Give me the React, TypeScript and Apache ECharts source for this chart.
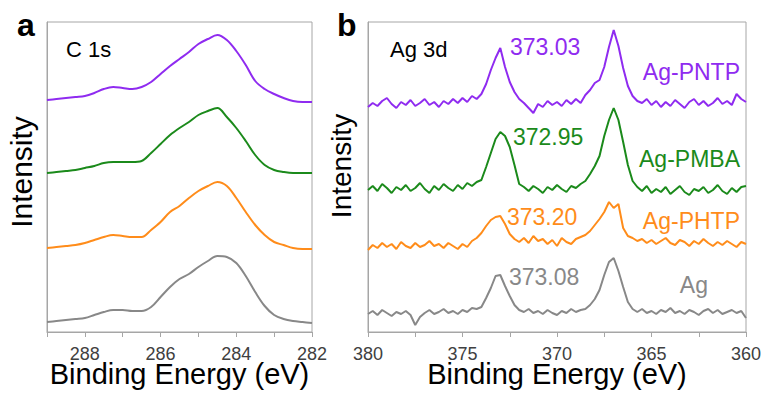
import React, { useEffect, useRef } from "react";
import * as echarts from "echarts";

// ---------- Panel a: C 1s ----------
const c1sEnergy = [289, 288.75, 288.5, 288.25, 288, 287.75, 287.5, 287.25, 287, 286.75, 286.5, 286.25, 286, 285.75, 285.5, 285.25, 285, 284.75, 284.5, 284.25, 284, 283.75, 283.5, 283.25, 283, 282.75, 282.5, 282.25, 282];
const c1sPNTP = [232, 233, 234, 235, 236, 239, 243, 245, 244, 243, 245, 250, 258, 266, 273, 280, 288, 293, 297, 292, 281, 267, 251, 243, 238, 234, 231, 230, 230];
const c1sPMBA = [159, 160, 161, 162, 164, 166, 169, 170, 170, 170, 171, 179, 188, 197, 204, 210, 217, 221, 224, 215, 204, 191, 177, 167, 162, 160, 159, 159, 159];
const c1sPHTP = [84, 85, 86, 87, 89, 92, 95, 97, 96, 95, 95, 102, 110, 120, 126, 134, 141, 146, 150, 146, 134, 120, 107, 97, 90, 87, 84, 83, 83];
const c1sAg = [10, 11, 12, 13, 14, 17, 20, 22, 22, 21, 21, 25, 35, 45, 53, 58, 65, 71, 76, 75, 69, 56, 40, 26, 17, 13, 11, 10, 9];

// ---------- Panel b: Ag 3d ----------
const agEnergy = [380, 379.75, 379.5, 379.25, 379, 378.75, 378.5, 378.25, 378, 377.75, 377.5, 377.25, 377, 376.75, 376.5, 376.25, 376, 375.75, 375.5, 375.25, 375, 374.75, 374.5, 374.25, 374, 373.75, 373.5, 373.25, 373, 372.75, 372.5, 372.25, 372, 371.75, 371.5, 371.25, 371, 370.75, 370.5, 370.25, 370, 369.75, 369.5, 369.25, 369, 368.75, 368.5, 368.25, 368, 367.75, 367.5, 367.25, 367, 366.75, 366.5, 366.25, 366, 365.75, 365.5, 365.25, 365, 364.75, 364.5, 364.25, 364, 363.75, 363.5, 363.25, 363, 362.75, 362.5, 362.25, 362, 361.75, 361.5, 361.25, 361, 360.75, 360.5, 360.25, 360];
const agPNTP = [
  225, 229, 226, 231, 234, 228, 224, 230,
  227, 232, 226, 229, 233, 227, 230, 225,
  231, 228, 233, 229, 234, 230, 236, 233,
  238, 248, 262, 274, 284, 265, 250, 240,
  233, 229, 224, 219, 228, 225, 231, 227,
  230, 226, 232, 228, 233, 229, 237, 242,
  249, 252, 265, 285, 302, 286, 264, 246,
  236, 231, 229, 233, 227, 231, 225, 230,
  226, 232, 228, 224, 230, 233, 227, 231,
  226, 229, 234, 228, 231, 227, 238, 233,
  230,
];
const agPMBA = [
  142, 146, 141, 148, 144, 139, 145, 142,
  147, 141, 144, 149, 143, 139, 146, 142,
  148, 144, 141, 147, 143, 149, 146, 150,
  152, 165, 179, 193, 200, 196, 185, 167,
  148, 145, 141, 146, 143, 139, 145, 142,
  147, 143, 140, 146, 144, 148, 151, 158,
  166, 176, 196, 212, 224, 212, 190, 167,
  151, 145, 141, 146, 139, 143, 140, 145,
  138, 142, 146, 140, 137, 143, 141, 145,
  139, 142, 147, 141, 138, 144, 140, 145,
  146,
];
const agPHTP = [
  82, 87, 84, 89, 85, 88, 83, 90,
  86, 84, 89, 85, 87, 91, 86, 88,
  84, 89, 86, 83, 88, 85, 91, 94,
  99, 106, 112, 115, 116, 108, 98, 93,
  90, 94, 89, 96, 91, 93, 88, 92,
  86, 94, 90, 88, 93, 95, 97, 101,
  107, 113, 120, 130, 124, 128, 104, 96,
  94, 91, 93, 89, 92, 88, 91, 94,
  89, 87, 92, 90, 86, 91, 88, 93,
  89, 86, 90, 87, 91, 88, 85, 90,
  88,
];
const agAg = [
  18, 21, 17, 22, 19, 16, 20, 18,
  21, 17, 7, 15, 19, 22, 18, 20,
  23, 19, 21, 18, 22, 20, 24, 23,
  25, 34, 44, 56, 57, 46, 36, 27,
  22, 20, 23, 19, 21, 18, 22, 19,
  17, 21, 19, 23, 20, 22, 23, 27,
  33, 42, 57, 70, 74, 61, 45, 30,
  23, 20, 23, 19, 21, 18, 22, 20,
  24, 19, 21, 18, 22, 20, 17, 21,
  23, 19, 22, 18, 20, 22, 19, 21,
  14,
];

const peakLabels = ["373.03", "372.95", "373.20", "373.08"];
const sampleNames = ["Ag-PNTP", "Ag-PMBA", "Ag-PHTP", "Ag"];
const colors = ["#8f2bf0", "#1b8a1b", "#ff8c1a", "#888888"];

const FONT = "'Liberation Sans', Arial, sans-serif";
const FRAME = "#a6a6a6";

function pairs(xs: number[], ys: number[]) {
  return xs.map((x, i) => [x, ys[i]]);
}

function txt(text: string, x: number, y: number, size: number, color: string, align = "left", weight = "normal", rotation = 0) {
  return {
    type: "text",
    x,
    y,
    rotation,
    silent: true,
    style: {
      text,
      fill: color,
      fontSize: size,
      fontFamily: FONT,
      fontWeight: weight,
      align,
      verticalAlign: "middle",
      textAlign: align,
      textVerticalAlign: "middle",
    },
  };
}

export default function App() {
  const ref = useRef<HTMLDivElement>(null);
  useEffect(() => {
    if (!ref.current) return;
    const chart = echarts.init(ref.current, undefined, { renderer: "svg" });

    const xAxisCommon = {
      type: "value",
      inverse: true,
      axisLine: { show: true, lineStyle: { color: FRAME, width: 1 } },
      axisTick: { show: true, length: 5, lineStyle: { color: FRAME } },
      splitLine: { show: false },
      name: "Binding Energy (eV)",
      nameLocation: "middle",
      nameGap: 31,
      nameMoveOverlap: false,
      nameTextStyle: { fontSize: 29, lineHeight: 22, color: "#000", fontFamily: FONT },
    };
    const yAxisCommon = {
      type: "value",
      min: 0,
      max: 310,
      axisLine: { show: true, onZero: false, lineStyle: { color: FRAME, width: 1 } },
      axisTick: { show: false },
      axisLabel: { show: false },
      splitLine: { show: false },
    };

    const c1sSets = [c1sPNTP, c1sPMBA, c1sPHTP, c1sAg];
    const agSets = [agPNTP, agPMBA, agPHTP, agAg];

    const series: any[] = [];
    c1sSets.forEach((d, i) =>
      series.push({
        type: "line",
        xAxisIndex: 0,
        yAxisIndex: 0,
        data: pairs(c1sEnergy, d),
        showSymbol: false,
        smooth: 0.35,
        lineStyle: { color: colors[i], width: 2 },
        silent: true,
      })
    );
    agSets.forEach((d, i) =>
      series.push({
        type: "line",
        xAxisIndex: 1,
        yAxisIndex: 1,
        data: pairs(agEnergy, d),
        showSymbol: false,
        lineStyle: { color: colors[i], width: 2 },
        silent: true,
      })
    );

    const peakPos = [
      [510, 47],
      [513, 137],
      [507, 217],
      [509, 277],
    ];
    const namePos = [
      [740, 72],
      [740, 159],
      [740, 221],
      [708, 285],
    ];

    const graphic: any[] = [
      txt("a", 17, 25, 32, "#000", "left", "bold"),
      txt("b", 337, 25, 32, "#000", "left", "bold"),
      txt("C 1s", 66, 49, 22, "#000"),
      txt("Ag 3d", 390, 49, 22, "#000"),
      txt("Intensity", 21, 172, 30, "#000", "center", "normal", Math.PI / 2),
      txt("Intensity", 341, 166, 28, "#000", "center", "normal", Math.PI / 2),
    ];
    peakLabels.forEach((t, i) => graphic.push(txt(t, peakPos[i][0], peakPos[i][1], 23, colors[i])));
    sampleNames.forEach((t, i) => graphic.push(txt(t, namePos[i][0], namePos[i][1], 23, colors[i], "right")));

    const tickLabel = {
      fontSize: 18,
      lineHeight: 14,
      color: "#404040",
      fontFamily: FONT,
      margin: 15,
    };

    chart.setOption({
      animation: false,
      backgroundColor: "#ffffff",
      grid: [
        { left: 47, top: 22, width: 265, height: 310, show: true, borderColor: FRAME, borderWidth: 1, backgroundColor: "transparent", containLabel: false, outerBoundsMode: "none" },
        { left: 368, top: 22, width: 378, height: 310, show: true, borderColor: FRAME, borderWidth: 1, backgroundColor: "transparent", containLabel: false, outerBoundsMode: "none" },
      ],
      xAxis: [
        {
          ...xAxisCommon,
          gridIndex: 0,
          min: 282,
          max: 289,
          interval: 1,
          axisLabel: {
            ...tickLabel,
            formatter: (v: number) => (v % 2 === 0 ? String(v) : ""),
          },
        },
        {
          ...xAxisCommon,
          gridIndex: 1,
          min: 360,
          max: 380,
          interval: 2.5,
          axisLabel: {
            ...tickLabel,
            formatter: (v: number) => (v % 5 === 0 ? String(v) : ""),
          },
        },
      ],
      yAxis: [
        { ...yAxisCommon, gridIndex: 0 },
        { ...yAxisCommon, gridIndex: 1 },
      ],
      series,
      graphic,
    });

    return () => chart.dispose();
  }, []);

  return (
    <div
      ref={ref}
      style={{ position: "fixed", left: 0, top: 0, width: 766, height: 394, background: "#fff" }}
    />
  );
}
